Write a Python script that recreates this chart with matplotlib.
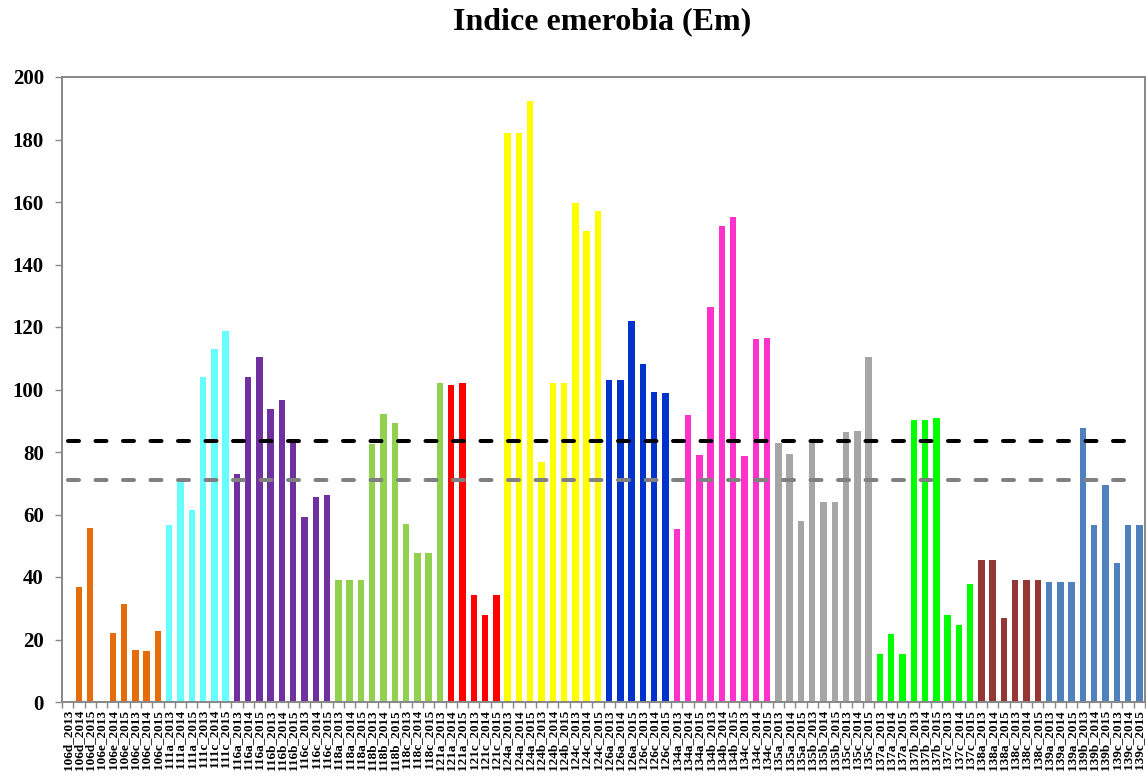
import matplotlib
matplotlib.use("Agg")
import matplotlib.pyplot as plt
import numpy as np

# Sampling sites and years
sites = ["106d", "106e", "106c", "111a", "111c", "116a", "116b", "116c",
         "118a", "118b", "118c", "121a", "121c", "124a", "124b", "124c",
         "126a", "126c", "134a", "134b", "134c", "135a", "135b", "135c",
         "137a", "137b", "137c", "138a", "138c", "139a", "139b", "139c"]
years = ["2013", "2014", "2015"]
labels = [f"{s}_{y}" for s in sites for y in years]

# Emerobia index (Em) per site and year
em_values = [
    0, 36.7, 55.7, 0, 22.0, 31.4, 16.6, 16.3, 22.7,
    56.6, 70.5, 61.4, 104.0, 113.0, 118.7,
    73.0, 104.0, 110.4, 93.8, 96.6, 84.1, 59.2, 65.6, 66.2,
    39.0, 39.0, 39.0, 82.5, 92.3, 89.2, 57.1, 47.8, 47.8,
    102.2, 101.5, 102.2, 34.1, 27.7, 34.1,
    182.0, 182.0, 192.3, 76.8, 102.2, 102.2, 159.7, 150.8, 157.2,
    103.0, 103.0, 121.8, 108.1, 99.2, 98.8,
    55.4, 91.9, 79.1, 126.5, 152.3, 155.3, 78.8, 116.2, 116.6,
    82.8, 79.4, 57.9, 82.8, 64.0, 64.0, 86.4, 86.8, 110.5,
    15.5, 21.8, 15.5, 90.3, 90.3, 90.9, 27.9, 24.7, 37.8,
    45.3, 45.3, 27.0, 39.0, 39.0, 39.0,
    38.3, 38.3, 38.3, 87.6, 56.8, 69.6, 44.4, 56.8, 56.8,
]

# Reference levels drawn as dashed lines
level_high = 83.5
level_low = 71.0

# Colour runs: (colour, number of bars)
color_runs = [("#E46C0A", 9), ("#66FFFF", 6), ("#7030A0", 9), ("#92D050", 10),
              ("#FF0000", 5), ("#FFFF00", 9), ("#0033CC", 6), ("#FF33CC", 9),
              ("#A6A6A6", 9), ("#00FF00", 9), ("#953735", 6), ("#4F81BD", 9)]
bar_colors = [c for c, n in color_runs for _ in range(n)]

plt.rcParams["font.family"] = ["Liberation Serif", "DejaVu Serif"]
plt.rcParams["font.weight"] = "bold"
plt.rcParams["lines.scale_dashes"] = False

W, H = 1146, 776
fig = plt.figure(figsize=(W / 100, H / 100), dpi=100)
ax = fig.add_axes([62 / W, 1 - 702 / H, (1145 - 62) / W, (702 - 77) / H])

x = np.arange(len(em_values))
ax.bar(x, em_values, width=0.57, color=bar_colors, zorder=2)

ax.plot([x[0], x[-1]], [level_high, level_high], color="black", lw=2.9,
        ls=(0, (7.9, 11.9)), dash_capstyle="round", zorder=3)
ax.plot([x[0], x[-1]], [level_low, level_low], color="#808080", lw=2.9,
        ls=(0, (7.9, 11.9)), dash_capstyle="round", zorder=3)

ax.set_xlim(-0.5, len(em_values) - 0.5)
ax.set_ylim(0, 200)
ax.set_yticks(np.arange(0, 201, 20))

ax.set_xticks(x)
ax.set_xticklabels(labels, rotation=90, fontsize=9.5, fontweight="bold")
ax.set_xticks(np.arange(-0.5, len(em_values), 1), minor=True)
ax.tick_params(axis="x", which="major", length=0, pad=5.8)
ax.tick_params(axis="x", which="minor", length=4.3, width=1.0, color="#878787",
               direction="out")
ax.tick_params(axis="y", length=5, width=1.0, color="#878787", direction="out",
               labelsize=15, pad=8)
for lab in ax.get_yticklabels():
    lab.set_fontweight("bold")

for sp in ax.spines.values():
    sp.set_color("#878787")
    sp.set_linewidth(1.4)

fig.text(602 / W, 1 - 22 / H, "Indice emerobia (Em)", ha="center", va="center",
         fontsize=23, fontweight="bold")

fig.savefig("out.png", dpi=100)
